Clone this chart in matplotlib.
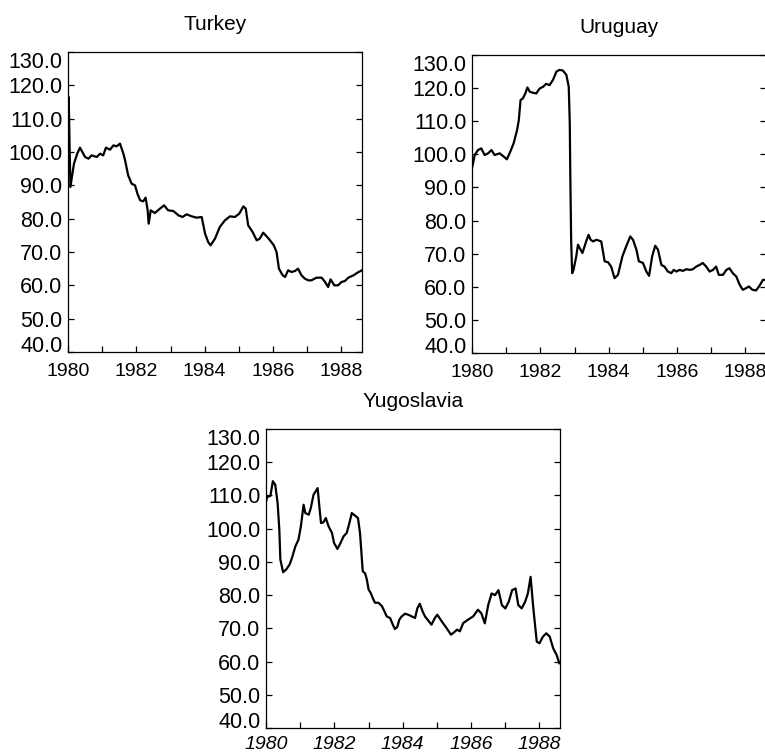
import numpy as np
import matplotlib
matplotlib.use('Agg')
import matplotlib.pyplot as plt
from matplotlib.ticker import FormatStrFormatter

plt.rcParams['font.family'] = ['Liberation Sans', 'DejaVu Sans']

# Values (index, decimal year)
turkey_year = [1980.00, 1980.02, 1980.07, 1980.175, 1980.27, 1980.35, 1980.50, 1980.60,
               1980.69, 1980.84, 1980.94, 1981.03, 1981.11, 1981.23, 1981.33, 1981.42,
               1981.52, 1981.62, 1981.67, 1981.76, 1981.86, 1981.96, 1982.03, 1982.11,
               1982.20, 1982.27, 1982.33, 1982.36, 1982.42, 1982.54, 1982.69, 1982.81,
               1982.93, 1983.08, 1983.23, 1983.35, 1983.47, 1983.62, 1983.76, 1983.91,
               1984.01, 1984.10, 1984.17, 1984.30, 1984.44, 1984.59, 1984.74, 1984.88,
               1985.01, 1985.13, 1985.20, 1985.27, 1985.40, 1985.52, 1985.61, 1985.71,
               1985.81, 1985.91, 1986.02, 1986.10, 1986.17, 1986.28, 1986.35, 1986.44,
               1986.54, 1986.64, 1986.73, 1986.83, 1986.93, 1987.03, 1987.12, 1987.27,
               1987.42, 1987.52, 1987.61, 1987.68, 1987.79, 1987.90, 1988.00, 1988.10,
               1988.20, 1988.35, 1988.50, 1988.60]
turkey_index = [104, 116.5, 89.5, 96.5, 99.5, 101.3, 98.5, 98,
                99, 98.5, 99.5, 99, 101.3, 100.7, 102, 101.7,
                102.5, 99.5, 97.5, 93, 90.5, 90, 87.5, 85.5,
                85.2, 86.3, 82.5, 78.5, 82.5, 81.7, 83, 84,
                82.5, 82.3, 81, 80.5, 81.3, 80.7, 80.3, 80.5,
                75.5, 73, 72, 74, 77.5, 79.5, 80.7, 80.5,
                81.5, 83.7, 83, 78, 76, 73.5, 74, 75.8,
                74.7, 73.5, 72, 70, 65, 63, 62.5, 64.5,
                64, 64.3, 65, 63, 62, 61.5, 61.5, 62.3,
                62.3, 61, 59.5, 61.8, 60, 60, 61, 61.3,
                62.3, 63, 64, 64.5]

uruguay_year = [1980.00, 1980.08, 1980.175, 1980.27, 1980.37, 1980.47, 1980.57, 1980.66,
                1980.81, 1980.93, 1981.02, 1981.12, 1981.22, 1981.32, 1981.37, 1981.42,
                1981.49, 1981.56, 1981.62, 1981.69, 1981.78, 1981.88, 1981.98, 1982.08,
                1982.17, 1982.27, 1982.37, 1982.47, 1982.56, 1982.66, 1982.76, 1982.83,
                1982.86, 1982.875, 1982.90, 1982.93, 1982.97, 1983.05, 1983.10, 1983.15,
                1983.23, 1983.34, 1983.41, 1983.47, 1983.54, 1983.64, 1983.78, 1983.88,
                1983.98, 1984.07, 1984.17, 1984.27, 1984.40, 1984.51, 1984.63, 1984.71,
                1984.81, 1984.88, 1985.00, 1985.10, 1985.18, 1985.27, 1985.36, 1985.44,
                1985.54, 1985.63, 1985.73, 1985.83, 1985.90, 1985.98, 1986.07, 1986.17,
                1986.27, 1986.37, 1986.46, 1986.56, 1986.66, 1986.75, 1986.85, 1986.95,
                1987.05, 1987.14, 1987.22, 1987.34, 1987.44, 1987.53, 1987.63, 1987.73,
                1987.83, 1987.92, 1988.02, 1988.10, 1988.20, 1988.31, 1988.41, 1988.51,
                1988.60]
uruguay_index = [95.8, 99.8, 101.3, 101.8, 99.8, 100.3, 101.3, 99.8,
                 100.3, 99.3, 98.5, 100.8, 103.4, 107.4, 110.4, 116.4,
                 116.9, 118.4, 120.2, 118.9, 118.6, 118.4, 119.9, 120.4,
                 121.3, 120.9, 122.5, 125, 125.5, 125.3, 124, 120.4,
                 109.4, 94.3, 74.2, 64.1, 65.1, 69.2, 72.7, 71.7,
                 70.2, 73.7, 75.7, 74.2, 73.7, 74.2, 73.7, 67.7,
                 67.4, 66.1, 62.6, 63.6, 69.2, 72.2, 75.2, 74.2,
                 71.2, 67.7, 67.2, 64.6, 63.3, 69.2, 72.4, 71.2,
                 66.6, 66.1, 64.6, 64.1, 65.1, 64.6, 65.1, 64.8,
                 65.3, 65.1, 65.3, 66.1, 66.6, 67.2, 66.1, 64.6,
                 65.1, 66.1, 63.6, 63.6, 65.1, 65.6, 64.1, 63.1,
                 60.6, 59.1, 59.6, 60.1, 59.1, 58.9, 60.3, 62.1,
                 62.0]

yugoslavia_year = [1980.00, 1980.03, 1980.13, 1980.20, 1980.27, 1980.34, 1980.39, 1980.42,
                   1980.50, 1980.59, 1980.69, 1980.76, 1980.86, 1980.95, 1981.02, 1981.10,
                   1981.15, 1981.25, 1981.31, 1981.39, 1981.51, 1981.57, 1981.61, 1981.68,
                   1981.75, 1981.83, 1981.93, 1981.99, 1982.09, 1982.17, 1982.27, 1982.36,
                   1982.44, 1982.51, 1982.61, 1982.69, 1982.75, 1982.83, 1982.90, 1982.95,
                   1983.00, 1983.06, 1983.14, 1983.19, 1983.29, 1983.39, 1983.46, 1983.53,
                   1983.63, 1983.71, 1983.77, 1983.84, 1983.90, 1983.97, 1984.07, 1984.16,
                   1984.26, 1984.36, 1984.43, 1984.50, 1984.58, 1984.65, 1984.84, 1984.94,
                   1985.01, 1985.14, 1985.28, 1985.41, 1985.50, 1985.59, 1985.67, 1985.77,
                   1985.91, 1986.06, 1986.20, 1986.30, 1986.40, 1986.50, 1986.60, 1986.70,
                   1986.80, 1986.90, 1987.00, 1987.10, 1987.20, 1987.30, 1987.38, 1987.48,
                   1987.58, 1987.66, 1987.74, 1987.82, 1987.92, 1988.00, 1988.10, 1988.20,
                   1988.30, 1988.40, 1988.50, 1988.58]
yugoslavia_index = [108, 109.5, 109.9, 114.3, 113.2, 107.7, 99.7, 90.7,
                    86.9, 87.7, 89.2, 91.2, 94.7, 96.7, 100.7, 107.2,
                    104.7, 104.2, 106.2, 110.2, 112.2, 105.7, 101.7, 101.9,
                    103.2, 100.7, 98.7, 95.7, 93.9, 95.5, 97.7, 98.7,
                    101.7, 104.7, 103.9, 103.2, 98.7, 87.2, 86.5, 84.7,
                    81.7, 80.7, 78.7, 77.7, 77.7, 76.7, 75.2, 73.6,
                    73.1, 71.1, 69.8, 70.4, 72.6, 73.6, 74.4, 74.1,
                    73.6, 73.1, 76.1, 77.4, 75.1, 73.6, 71.1, 73.1,
                    74.1, 72.1, 70.1, 68.1, 68.8, 69.6, 69.1, 71.6,
                    72.6, 73.6, 75.6, 74.5, 71.5, 77, 80.5, 80,
                    81.5, 77, 76, 78, 81.5, 82, 77, 76,
                    78, 80.5, 85.5, 76, 66, 65.5, 67.5, 68.5,
                    67.5, 64, 62, 59.5]

year_ticks = list(range(1980, 1989))
year_labels = [str(y) if y % 2 == 0 else '' for y in year_ticks]
index_ticks = list(range(40, 131, 10))


def draw_panel(ax, years, values, title, italic_years=False, xpad=8):
    ax.plot(years, values, color='black', lw=1.6, solid_joinstyle='round')
    ax.set_xlim(1980, 1988.6)
    ax.set_ylim(40, 130)
    ax.set_yticks(index_ticks)
    ax.yaxis.set_major_formatter(FormatStrFormatter('%.1f'))
    ax.set_xticks(year_ticks)
    ax.set_xticklabels(year_labels, fontsize=14,
                       fontstyle='italic' if italic_years else 'normal')
    ax.tick_params(axis='both', direction='in', length=4, width=0.9, color='black')
    ax.tick_params(axis='y', right=True, labelsize=15.5, pad=4)
    ax.tick_params(axis='x', top=False, pad=xpad)
    # end labels are pulled inside the axis range, as in the original
    yt = ax.yaxis.get_major_ticks()
    yt[0].label1.set_verticalalignment('baseline')
    yt[-1].label1.set_verticalalignment('top')
    for s in ax.spines.values():
        s.set_linewidth(0.9)
        s.set_color('black')
    ax.set_title(title, fontsize=15, pad=16)


fig = plt.figure(figsize=(7.65, 7.52), dpi=100)
W, H = 765, 752

ax1 = fig.add_axes([68 / W, (H - 352) / H, 294 / W, 300 / H])
ax2 = fig.add_axes([472 / W, (H - 353) / H, 294 / W, 298 / H])
ax3 = fig.add_axes([266 / W, (H - 728) / H, 294 / W, 299 / H])

draw_panel(ax1, turkey_year, turkey_index, 'Turkey')
draw_panel(ax2, uruguay_year, uruguay_index, 'Uruguay')
draw_panel(ax3, yugoslavia_year, yugoslavia_index, 'Yugoslavia',
           italic_years=True, xpad=5.5)

plt.savefig('out.png', dpi=100)
plt.close()
